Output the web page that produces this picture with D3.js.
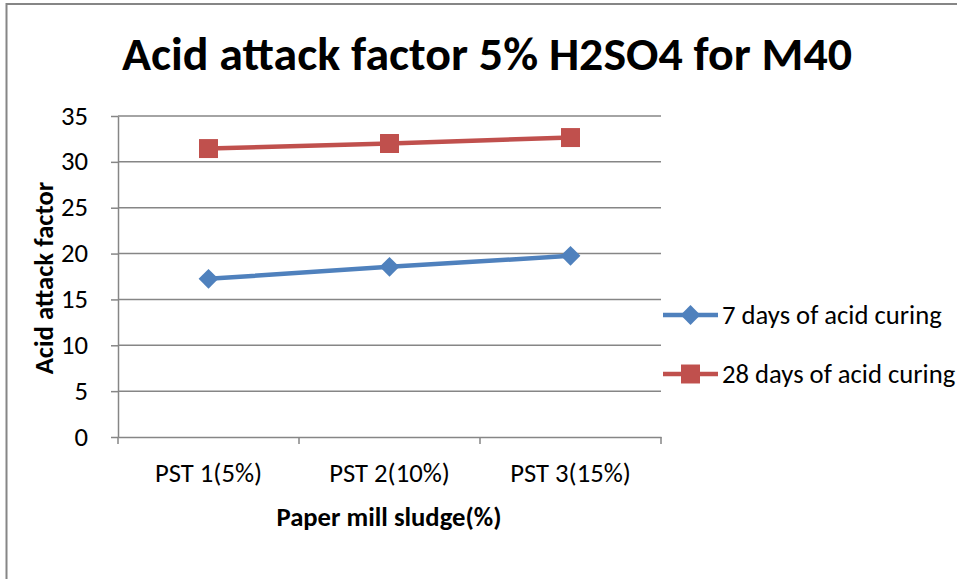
<!DOCTYPE html>
<html>
<head>
<meta charset="utf-8">
<script src="https://cdn.jsdelivr.net/npm/d3@7"></script>
<style>
  html, body { margin: 0; padding: 0; background: #fff; }
  svg { display: block; }
  text { font-family: Carlito, Calibri, Lato, sans-serif; fill: #000; }
</style>
</head>
<body>
<svg id="chart" width="957" height="579"></svg>
<script>
// Categories and series
const categories = ["PST 1(5%)", "PST 2(10%)", "PST 3(15%)"];
const days7 = [17.25, 18.55, 19.75];
const days28 = [31.45, 32.0, 32.65];
const seriesNames = ["7 days of acid curing", "28 days of acid curing"];
const yTicks = [0, 5, 10, 15, 20, 25, 30, 35];

const titleText = "Acid attack factor 5% H2SO4 for M40";
const xTitle = "Paper mill sludge(%)";
const yTitle = "Acid attack factor";

const colors = ["#4F81BD", "#C0504D"];
const gridColor = "#868686";
const labelSize = "26.67px";

const svg = d3.select("#chart");
const plot = { left: 118, right: 661, top: 116, bottom: 437 };

// set the drawn width of a label exactly
function fit(sel, w) {
  sel.attr("textLength", w).attr("lengthAdjust", "spacingAndGlyphs");
}

// outer chart frame
svg.append("rect")
  .attr("x", 6.5).attr("y", 4)
  .attr("width", 1000).attr("height", 700)
  .attr("fill", "none").attr("stroke", gridColor).attr("stroke-width", 2);

const x = d3.scaleBand().domain(categories).range([plot.left, plot.right]);
const y = d3.scaleLinear().domain([0, 35]).range([plot.bottom, plot.top]);

// horizontal gridlines
svg.append("g").selectAll("line").data(yTicks.filter(d => d > 0)).join("line")
  .attr("x1", plot.left).attr("x2", plot.right)
  .attr("y1", d => y(d)).attr("y2", d => y(d))
  .attr("stroke", gridColor).attr("stroke-width", 1.5);

// y axis
const yAxis = svg.append("g").attr("transform", `translate(${plot.left},0)`)
  .call(d3.axisLeft(y).tickValues(yTicks).tickSize(7).tickSizeOuter(0).tickPadding(23));
yAxis.attr("font-family", null).attr("font-size", null);
yAxis.select(".domain").attr("stroke", gridColor).attr("stroke-width", 1.5);
yAxis.selectAll(".tick line").attr("stroke", gridColor).attr("stroke-width", 1.5);
yAxis.selectAll(".tick text").style("font-size", labelSize).attr("dy", "0.3em");

// x axis
const xAxis = svg.append("g").attr("transform", `translate(0,${plot.bottom})`)
  .call(d3.axisBottom(x).tickSize(0).tickSizeOuter(0).tickPadding(0));
xAxis.attr("font-family", null).attr("font-size", null);
xAxis.select(".domain").attr("stroke", gridColor).attr("stroke-width", 1.5);
xAxis.selectAll(".tick text").style("font-size", labelSize)
  .attr("y", 45).attr("dy", 0);
// category boundary ticks
const bounds = categories.map(c => x(c)).concat([plot.right]);
xAxis.append("g").selectAll("line").data(bounds).join("line")
  .attr("x1", d => d).attr("x2", d => d).attr("y1", 0).attr("y2", 7)
  .attr("stroke", gridColor).attr("stroke-width", 1.5);

// titles
svg.append("text").attr("x", 487).attr("y", 70).attr("text-anchor", "middle")
  .style("font-size", "46px").attr("font-weight", "bold").text(titleText)
  .call(fit, 730);
svg.append("text").attr("x", 389).attr("y", 526).attr("text-anchor", "middle")
  .style("font-size", labelSize).attr("font-weight", "bold").text(xTitle);
svg.append("text").attr("transform", "translate(53,278) rotate(-90)")
  .attr("text-anchor", "middle")
  .style("font-size", labelSize).attr("font-weight", "bold").text(yTitle);

// series
const series = [days7, days28];
const cx = c => x(c) + x.bandwidth() / 2;
const line = d3.line().x((d, i) => cx(categories[i])).y(d => y(d));
const diamond = d3.symbol().type(d3.symbolDiamond2).size(250);
const square = d3.symbol().type(d3.symbolSquare).size(360);
const shapes = [diamond, square];

series.forEach((vals, s) => {
  svg.append("path").datum(vals).attr("d", line)
    .attr("fill", "none").attr("stroke", colors[s]).attr("stroke-width", 4.5);
  svg.append("g").selectAll("path").data(vals).join("path")
    .attr("transform", (d, i) => `translate(${cx(categories[i])},${y(d)})`)
    .attr("d", shapes[s]())
    .attr("fill", colors[s]);
});

// legend
const legendY = [315, 374];
seriesNames.forEach((name, s) => {
  const g = svg.append("g").attr("transform", `translate(663,${legendY[s]})`);
  g.append("line").attr("x1", 0).attr("x2", 55).attr("y1", 0).attr("y2", 0)
    .attr("stroke", colors[s]).attr("stroke-width", 4.5);
  g.append("path").attr("transform", "translate(27.5,0)").attr("d", shapes[s]()).attr("fill", colors[s]);
  g.append("text").attr("x", 59).attr("y", 8.5)
    .style("font-size", labelSize).text(name);
});
</script>
</body>
</html>
